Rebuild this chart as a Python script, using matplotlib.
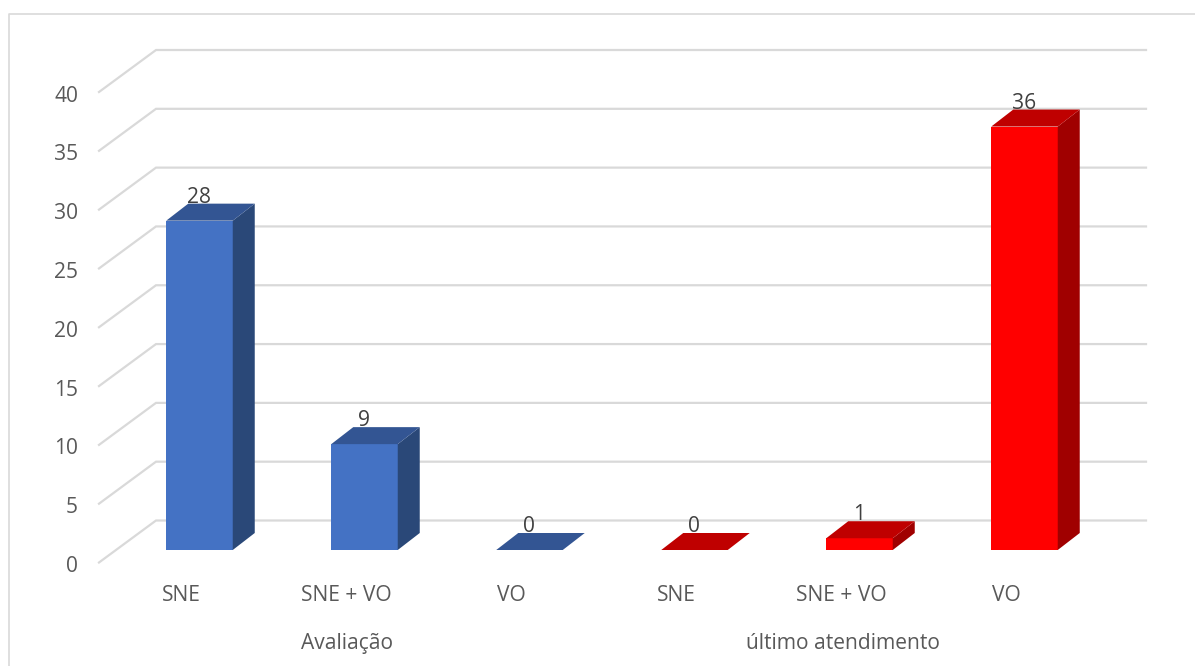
import matplotlib
matplotlib.use("Agg")
import matplotlib.pyplot as plt
from matplotlib.lines import Line2D
from matplotlib.patches import Polygon
from matplotlib.transforms import Affine2D, IdentityTransform, blended_transform_factory

categories = ["SNE", "SNE + VO", "VO", "SNE", "SNE + VO", "VO"]
groups = ["Avaliação", "último atendimento"]
group_members = [(0, 1, 2), (3, 4, 5)]
values = [28, 9, 0, 0, 1, 36]
y_ticks = [0, 5, 10, 15, 20, 25, 30, 35, 40]

BLUE = ("#4472C4", "#335593", "#2A4878")
RED = ("#FF0000", "#BF0000", "#A00000")
bar_colors = [BLUE, BLUE, BLUE, RED, RED, RED]
GRID = "#D9D9D9"
TICK = "#595959"
LABEL = "#404040"
FONT = "Open Sans"
FS = 15.1

W, H = 1195, 666
fig = plt.figure(figsize=(W / 100, H / 100), dpi=100, facecolor="white")
ax = fig.add_axes([99 / W, 1 - 562.5 / H, 990 / W, 470.5 / H])
ax.set_xlim(0, 6)
ax.set_ylim(0, 40)
ax.patch.set_visible(False)
for s in ax.spines.values():
    s.set_visible(False)

# Chart frame: only left and top edges are inside the picture
fig.add_artist(Line2D([9 / W, 9 / W, 1], [0, 1 - 14 / H, 1 - 14 / H], color="#D9D9D9", lw=1.2))

# Oblique depth, in pixels
WALL = (57, 42)
BAR_FRONT = (18, 12.5)
BAR_BACK = (40, 29.5)
BAR_WIDTH = 0.403


def to_px(x, y, d=(0, 0)):
    px, py = ax.transData.transform((x, y))
    return px + d[0], py + d[1]


# Floor and wall gridlines
for t in y_ticks:
    pts = [to_px(0, t), to_px(0, t, WALL), to_px(6, t, WALL)]
    ax.add_line(Line2D([p[0] for p in pts], [p[1] for p in pts], color=GRID, lw=1.6,
                       transform=IdentityTransform(), clip_on=False, zorder=1,
                       solid_joinstyle="miter"))

# 3-D bars
front_tr = ax.transData + Affine2D().translate(*BAR_FRONT)
for i, (v, (cf, ct, cs)) in enumerate(zip(values, bar_colors)):
    cx = i + 0.5
    x0, x1 = cx - BAR_WIDTH / 2, cx + BAR_WIDTH / 2
    if v > 0:
        ax.bar(cx, v, BAR_WIDTH, color=cf, transform=front_tr, clip_on=False, zorder=3)
        side = [to_px(x1, 0, BAR_FRONT), to_px(x1, 0, BAR_BACK),
                to_px(x1, v, BAR_BACK), to_px(x1, v, BAR_FRONT)]
        ax.add_patch(Polygon(side, closed=True, fc=cs, ec="none",
                             transform=IdentityTransform(), clip_on=False, zorder=3))
    top = [to_px(x0, v, BAR_FRONT), to_px(x1, v, BAR_FRONT),
           to_px(x1, v, BAR_BACK), to_px(x0, v, BAR_BACK)]
    ax.add_patch(Polygon(top, closed=True, fc=ct, ec="none",
                         transform=IdentityTransform(), clip_on=False, zorder=3))
    # data label
    ax.annotate(str(v), xy=(cx, v), xycoords="data",
                xytext=((BAR_FRONT[0] - 0.5) * 0.72, (BAR_FRONT[1] + 23.5) * 0.72), textcoords="offset points",
                ha="center", va="center", color=LABEL, fontsize=FS, family=FONT, zorder=4,
                annotation_clip=False)

# Axis labels
ax.set_yticks(y_ticks)
ax.set_xticks([i + 0.5 for i in range(len(categories))])
ax.set_xticklabels(categories)
ax.tick_params(axis="y", length=0, pad=15, labelcolor=TICK, labelsize=FS)
ax.tick_params(axis="x", length=0, pad=16.5, labelcolor=TICK, labelsize=FS)
for lab in ax.get_xticklabels() + ax.get_yticklabels():
    lab.set_family(FONT)
# Nudge y tick labels down to sit level with the front ends of the gridlines
for tick in ax.yaxis.get_major_ticks():
    tick.label1.set_transform(tick.label1.get_transform() + Affine2D().translate(0, -1.5))

# Group labels below the category labels
tr = blended_transform_factory(ax.transData, ax.transAxes)
for name, members in zip(groups, group_members):
    xc = sum(m + 0.5 for m in members) / len(members)
    ax.annotate(name, xy=(xc, 0), xycoords=tr, xytext=(0.7, -58.2), textcoords="offset points",
                ha="center", va="center", color=TICK, fontsize=FS, family=FONT,
                annotation_clip=False)

fig.savefig("out.png", dpi=100)
